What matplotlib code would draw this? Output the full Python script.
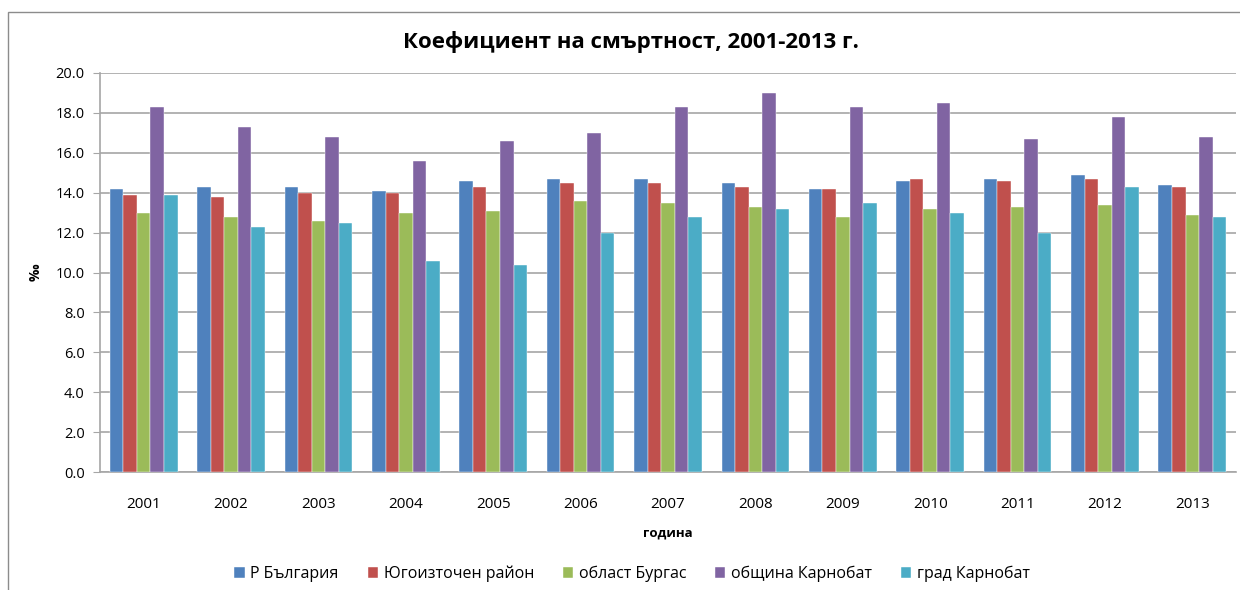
import numpy as np
import matplotlib.pyplot as plt
from matplotlib.patches import Rectangle

plt.rcParams["font.family"] = ["Open Sans", "DejaVu Sans"]

years = ["2001", "2002", "2003", "2004", "2005", "2006", "2007",
         "2008", "2009", "2010", "2011", "2012", "2013"]
series_names = ["Р България", "Югоизточен район", "област Бургас",
                "община Карнобат", "град Карнобат"]
bulgaria = [14.2, 14.3, 14.3, 14.1, 14.6, 14.7, 14.7, 14.5, 14.2, 14.6, 14.7, 14.9, 14.4]
southeast = [13.9, 13.8, 14.0, 14.0, 14.3, 14.5, 14.5, 14.3, 14.2, 14.7, 14.6, 14.7, 14.3]
burgas = [13.0, 12.8, 12.6, 13.0, 13.1, 13.6, 13.5, 13.3, 12.8, 13.2, 13.3, 13.4, 12.9]
karnobat_mun = [18.3, 17.3, 16.8, 15.6, 16.6, 17.0, 18.3, 19.0, 18.3, 18.5, 16.7, 17.8, 16.8]
karnobat_town = [13.9, 12.3, 12.5, 10.6, 10.4, 12.0, 12.8, 13.2, 13.5, 13.0, 12.0, 14.3, 12.8]

colors = ["#4F81BD", "#C0504D", "#9BBB59", "#8064A2", "#4BACC6"]
grid_col = "#A6A6A6"

fig = plt.figure(figsize=(12.4, 5.9), dpi=100)
ax = fig.add_axes([100 / 1240, 1 - 472 / 590, 1136 / 1240, 399 / 590])

# outer chart frame
fig.patches.append(Rectangle((8 / 1240, -0.05), 1.2, 1 - 12 / 590 + 0.05,
                             transform=fig.transFigure, fill=False,
                             edgecolor="#8C8C8C", linewidth=1.0))

x = np.arange(len(years))
all_series = [bulgaria, southeast, burgas, karnobat_mun, karnobat_town]
w = 0.155
for i, (vals, name) in enumerate(zip(all_series, series_names)):
    ax.bar(x + (i - 2) * w, vals, width=w, color=colors[i], label=name,
           edgecolor="white", linewidth=0.3, zorder=3)

ax.set_xlim(-0.5, len(years) - 0.5)
ax.set_ylim(0, 20)
ax.set_yticks(np.arange(0, 20.1, 2))
ax.set_yticklabels([f"{v:.1f}" for v in np.arange(0, 20.1, 2)], fontsize=10.5)
ax.set_xticks(x)
ax.set_xticklabels(years, fontsize=11)
ax.tick_params(axis="x", length=0, pad=18)
ax.tick_params(axis="y", length=5, color=grid_col, pad=6)
ax.yaxis.grid(True, color=grid_col, linewidth=1.2, zorder=0)
ax.set_axisbelow(True)
for s in ["top", "right"]:
    ax.spines[s].set_visible(False)
for s in ["left", "bottom"]:
    ax.spines[s].set_color(grid_col)
    ax.spines[s].set_linewidth(1.2)

fig.text(631 / 1240, 1 - 42 / 590, "Коефициент на смъртност, 2001-2013 г.",
         ha="center", va="center", fontsize=16, fontweight="bold")
fig.text(668 / 1240, 1 - 533 / 590, "година", ha="center", va="center",
         fontsize=9.5, fontweight="bold")
fig.text(36 / 1240, 1 - 272 / 590, "‰", ha="center", va="center",
         fontsize=10, fontweight="bold", rotation=90)

fig.legend(loc="center", bbox_to_anchor=(632 / 1240, 1 - 574 / 590), ncol=5,
           frameon=False, fontsize=11.5, handlelength=0.65, handleheight=0.65,
           handletextpad=0.35, columnspacing=1.8)

fig.savefig("out.png", dpi=100)
